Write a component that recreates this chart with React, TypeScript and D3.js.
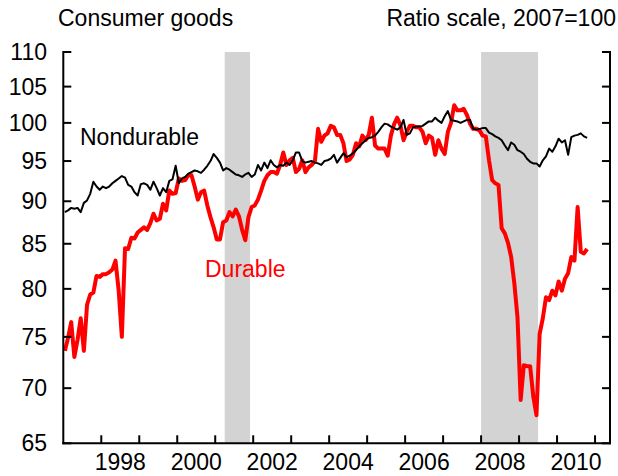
import { scaleLinear, scaleLog, line } from "d3";

// monthly, Jan 1997 onward, 2007=100
const startYear = 1997;

const nondurable = [
  88.7, 88.9, 89.2, 89.1, 89.2, 88.7, 89.8, 90.1, 90.9, 92.4, 91.8, 91.4,
  91.8, 91.6, 91.8, 92.2, 92.5, 92.8, 93.1, 92.9, 92.0, 91.8, 91.1, 90.7,
  92.1, 92.2, 92.0, 91.4, 92.4, 91.6, 90.7, 91.6, 91.1, 92.5, 92.7, 94.4,
  92.2, 92.8, 93.0, 93.4, 93.6, 93.8, 93.7, 93.5, 93.9, 94.4, 95.0, 95.9,
  95.4, 94.8, 93.8, 94.1, 93.9, 93.6, 93.3, 93.2, 93.0, 93.3, 93.5, 93.0,
  93.3, 94.5, 93.8, 94.8, 94.1, 95.1, 94.5, 94.2, 94.5, 94.4, 94.8, 94.5,
  95.1, 96.1, 96.1, 95.0, 94.8, 94.9, 95.0, 94.8, 94.7, 94.5, 95.0, 95.1,
  95.3, 95.8, 94.8, 95.4, 96.0, 95.5, 95.7, 96.0, 96.4, 96.9, 97.3, 97.7,
  98.0, 98.1, 98.3, 98.8, 99.4, 99.9, 99.8, 99.5, 99.3, 99.1, 99.4, 100.4,
  98.4, 98.6, 99.4, 99.5, 99.5, 99.6, 99.9, 100.2, 100.2, 100.7, 100.3, 100.0,
  100.9, 101.6, 100.4, 100.3, 100.2, 100.0, 100.2, 100.4, 100.4, 99.2, 99.1, 99.2,
  99.3, 99.3, 98.7, 98.5, 98.2, 98.0, 97.7, 97.0, 96.4, 97.4, 97.1, 96.4,
  96.2, 95.9, 95.3, 94.9, 94.7, 94.7, 94.3, 95.1, 95.6, 96.6, 96.2, 96.9,
  97.9, 97.4, 97.7, 95.8, 98.1, 98.3, 98.4, 98.6, 98.2, 98.0,
];

const durable = [
  73.6, 74.9, 76.5, 73.0, 74.7, 76.9, 73.6, 78.3, 79.4, 79.6, 81.4, 81.3,
  81.6, 81.6, 81.8, 82.1, 83.1, 79.8, 75.0, 84.5, 84.4, 85.7, 85.6, 86.3,
  86.6, 86.9, 86.6, 87.4, 88.5, 87.7, 87.9, 89.7, 88.9, 91.3, 90.9, 91.0,
  92.8, 92.5, 92.6, 93.2, 93.2, 91.8, 90.2, 91.1, 91.3, 89.5, 88.1, 86.9,
  85.5, 85.5, 87.5, 87.7, 88.7, 88.2, 89.0, 88.2, 86.6, 85.4, 88.1, 89.3,
  89.5, 90.2, 91.3, 92.5, 93.2, 93.6, 93.6, 93.4, 94.5, 96.1, 94.5, 95.1,
  95.4, 93.6, 94.0, 95.1, 93.6, 94.2, 94.5, 95.0, 99.2, 97.5, 98.3, 98.6,
  99.6, 99.4, 98.4, 98.4, 97.3, 95.0, 95.2, 95.8, 97.3, 96.9, 98.3, 97.7,
  98.4, 100.7, 97.0, 96.6, 96.6, 96.6, 95.7, 98.3, 99.8, 100.7, 99.7, 97.7,
  98.8, 99.6, 99.6, 99.4, 99.4, 98.8, 97.3, 98.3, 98.0, 95.8, 97.7, 96.6,
  95.9, 98.8, 100.0, 102.4, 101.7, 101.7, 101.9, 101.1, 99.9, 99.2, 99.2, 99.0,
  98.3, 98.2, 95.1, 92.6, 92.2, 92.0, 86.8, 86.2, 85.1, 83.5, 80.6, 77.0,
  68.9, 72.2, 72.1, 72.1, 69.2, 67.5, 75.3, 76.9, 79.1, 78.8, 79.8, 79.3,
  80.8, 79.8, 81.1, 81.7, 83.5, 83.1, 89.3, 84.1, 83.9, 84.4,
];

const recessions = [
  [2001.25, 2001.917],
  [2008.0, 2009.5],
];

const yTicks = [65, 70, 75, 80, 85, 90, 95, 100, 105, 110];
const yearTicks = [1998, 1999, 2000, 2001, 2002, 2003, 2004, 2005, 2006, 2007, 2008, 2009, 2010, 2011];
const yearLabels = [1998, 2000, 2002, 2004, 2006, 2008, 2010];

const width = 618;
const height = 476;
const left = 63.3;
const right = 610;
const top = 52;
const bottom = 443.3;
const tickLen = 8;
const font = "'Liberation Sans', Arial, sans-serif";

const monthTime = (i) => startYear + (i + 0.5) / 12;

const App = () => {
  const xScale = scaleLinear().domain([1997, 2011.394]).range([left, right]);
  const yScale = scaleLog().domain([65, 110]).range([bottom, top]);

  const path = line()
    .x((d, i) => xScale(monthTime(i)))
    .y((d) => yScale(d));

  return (
    <svg
      width={width}
      height={height}
      style={{ position: "absolute", left: 0, top: 0, background: "#fff" }}
      fontFamily={font}
    >
      {recessions.map(([a, b], i) => (
        <rect
          key={i}
          x={xScale(a)}
          y={top}
          width={xScale(b) - xScale(a)}
          height={bottom - top}
          fill="#d3d3d3"
        />
      ))}

      <path d={path(durable)} fill="none" stroke="#ff0000" strokeWidth={4} strokeLinejoin="round" />
      <path d={path(nondurable)} fill="none" stroke="#000" strokeWidth={2} strokeLinejoin="round" />

      {/* axes */}
      <g stroke="#000" strokeWidth={2} fill="none">
        <line x1={left} x2={left} y1={top - 1} y2={bottom + 1} />
        <line x1={right} x2={right} y1={top - 1} y2={bottom + 1} />
        <line x1={left - 1} x2={right + 1} y1={bottom} y2={bottom} />
        {yTicks.map((t) => (
          <g key={t}>
            <line x1={left} x2={left + tickLen} y1={yScale(t)} y2={yScale(t)} />
            <line x1={right} x2={right - tickLen} y1={yScale(t)} y2={yScale(t)} />
          </g>
        ))}
        {yearTicks.map((t) => (
          <line key={t} x1={xScale(t)} x2={xScale(t)} y1={bottom} y2={bottom - tickLen} />
        ))}
      </g>

      {yTicks.map((t) => (
        <text
          key={t}
          x={47}
          y={yScale(t)}
          dy="0.35em"
          textAnchor="end"
          fontSize={23}
        >
          {t}
        </text>
      ))}
      {yearLabels.map((t) => (
        <text key={t} x={xScale(t + 0.5)} y={470} textAnchor="middle" fontSize={23}>
          {t}
        </text>
      ))}

      <text x={58} y={26} fontSize={23}>
        Consumer goods
      </text>
      <text x={616} y={26} fontSize={23} textAnchor="end">
        Ratio scale, 2007=100
      </text>
      <text x={80} y={145} fontSize={23}>
        Nondurable
      </text>
      <text x={205} y={277} fontSize={23} fill="#ff0000">
        Durable
      </text>
    </svg>
  );
};

export default App;
